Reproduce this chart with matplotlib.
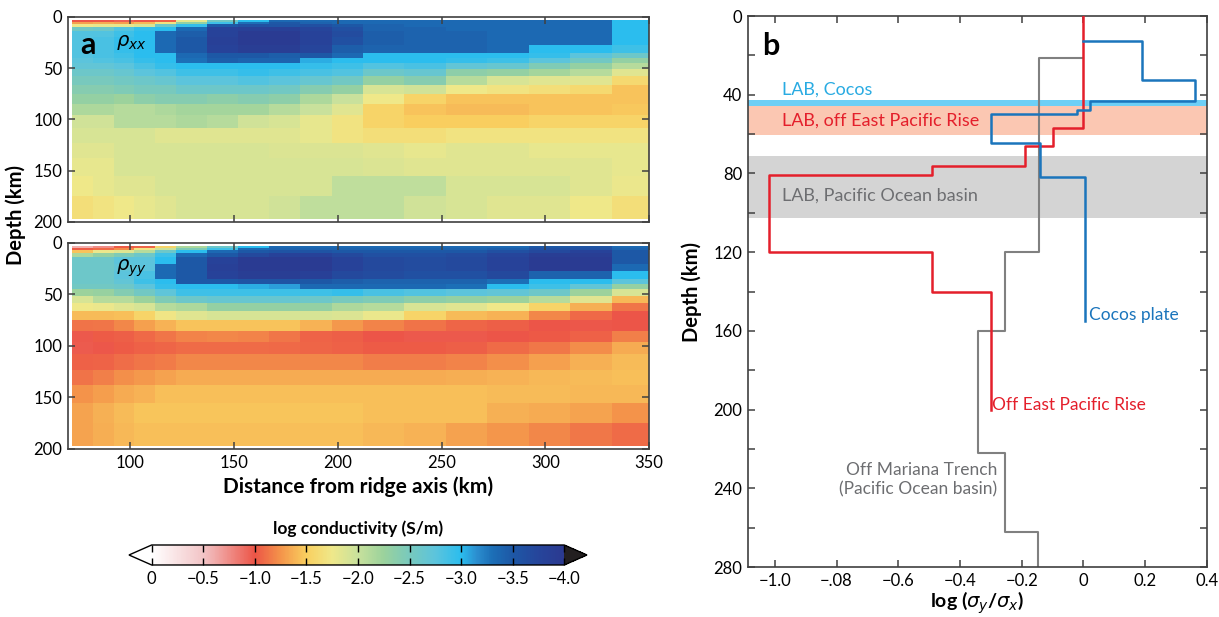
"""
Anisotropic conductivity sections off the East Pacific Rise (a) and
log(sigma_y / sigma_x) depth profiles for three oceanic settings (b).
"""
import numpy as np
import matplotlib.pyplot as plt
from matplotlib.colors import LinearSegmentedColormap, Normalize

plt.rcParams["font.family"] = ["Lato", "DejaVu Sans"]
plt.rcParams["mathtext.fontset"] = "dejavusans"

# ---- panel a: model mesh (km) ----
dist_edges = [72, 82, 92, 102, 112, 122, 137, 152, 167, 182, 197, 212,
              232, 252, 272, 292, 312, 332, 350]
depth_edges = [3, 5, 7, 10, 14, 20, 27, 35, 40, 45, 51, 58, 66, 75, 85,
               96, 108, 123, 138, 155, 175, 197]

# log conductivity (S/m), one row per layer, one value per column
log_sigma_xx = [
    [-1.0, -1.0, -0.95, -1.0, -1.05, -1.8, -2.55, -3.0, -3.35, -3.35, -3.35, -3.35, -3.35, -3.35, -3.35, -3.35, -3.35, -3.0],
    [-1.3, -1.35, -1.3, -1.4, -1.7, -2.3, -2.9, -3.3, -3.5, -3.4, -3.35, -3.35, -3.35, -3.35, -3.35, -3.35, -3.35, -3.0],
    [-1.75, -1.8, -1.8, -1.9, -2.6, -2.95, -3.5, -3.6, -3.55, -3.6, -3.5, -3.4, -3.35, -3.35, -3.35, -3.35, -3.35, -3.0],
    [-2.55, -2.6, -2.8, -2.95, -3.0, -3.35, -3.8, -3.85, -3.85, -3.75, -3.6, -3.4, -3.4, -3.35, -3.35, -3.35, -3.35, -3.0],
    [-2.8, -2.8, -2.9, -3.0, -3.35, -3.45, -3.8, -3.95, -3.95, -3.8, -3.65, -3.45, -3.4, -3.4, -3.35, -3.35, -3.35, -3.0],
    [-2.8, -2.85, -2.95, -3.0, -3.35, -3.5, -3.85, -3.95, -3.95, -3.8, -3.6, -3.45, -3.4, -3.4, -3.35, -3.35, -3.35, -3.0],
    [-2.8, -2.85, -2.95, -3.0, -3.35, -3.5, -3.8, -3.9, -3.9, -3.75, -3.45, -3.4, -3.4, -3.4, -3.35, -3.0, -3.0, -2.9],
    [-2.8, -2.85, -2.9, -3.0, -3.0, -3.35, -3.5, -3.5, -3.45, -3.5, -3.35, -3.0, -3.0, -3.0, -3.0, -2.95, -2.75, -2.6],
    [-2.75, -2.8, -2.85, -2.95, -3.0, -3.3, -3.45, -3.4, -3.4, -3.05, -3.0, -3.0, -3.0, -2.95, -2.9, -2.75, -2.55, -2.3],
    [-2.7, -2.7, -2.75, -2.85, -2.95, -3.0, -3.0, -3.0, -3.0, -2.95, -2.9, -2.8, -2.85, -2.7, -2.65, -2.45, -2.3, -2.1],
    [-2.6, -2.6, -2.65, -2.75, -2.8, -2.9, -2.9, -2.95, -2.9, -2.85, -2.8, -2.6, -2.65, -2.35, -2.3, -2.2, -2.1, -1.85],
    [-2.5, -2.5, -2.55, -2.6, -2.65, -2.75, -2.75, -2.8, -2.75, -2.65, -2.55, -2.3, -2.4, -2.1, -1.9, -1.85, -1.85, -1.6],
    [-2.4, -2.4, -2.45, -2.5, -2.5, -2.6, -2.6, -2.6, -2.55, -2.4, -2.3, -1.9, -1.95, -1.75, -1.7, -1.65, -1.6, -1.45],
    [-2.3, -2.3, -2.25, -2.35, -2.4, -2.4, -2.35, -2.4, -2.35, -2.15, -2.0, -1.75, -1.55, -1.45, -1.45, -1.45, -1.45, -1.45],
    [-2.15, -2.15, -2.1, -2.1, -2.15, -2.2, -2.2, -2.2, -2.1, -2.0, -1.85, -1.55, -1.45, -1.42, -1.42, -1.45, -1.45, -1.47],
    [-1.95, -1.95, -2.1, -2.1, -2.1, -2.15, -2.1, -1.95, -1.9, -1.8, -1.7, -1.55, -1.5, -1.5, -1.5, -1.55, -1.55, -1.55],
    [-1.9, -1.9, -1.9, -1.9, -1.85, -1.85, -1.85, -1.85, -1.85, -1.8, -1.7, -1.65, -1.65, -1.7, -1.7, -1.7, -1.7, -1.7],
    [-1.85, -1.85, -1.9, -1.9, -1.9, -1.9, -1.9, -1.9, -1.88, -1.88, -1.88, -1.85, -1.8, -1.85, -1.85, -1.8, -1.8, -1.8],
    [-1.8, -1.8, -1.9, -1.9, -1.9, -1.9, -1.9, -1.9, -1.9, -1.9, -1.9, -1.88, -1.85, -1.85, -1.85, -1.85, -1.85, -1.8],
    [-1.75, -1.8, -1.85, -1.85, -1.9, -1.9, -1.9, -1.9, -1.9, -1.9, -2.05, -2.05, -2.05, -1.9, -1.9, -1.9, -1.85, -1.78],
    [-1.65, -1.7, -1.75, -1.8, -1.85, -1.9, -1.9, -1.9, -1.95, -2.05, -2.05, -2.05, -1.95, -1.9, -1.85, -1.85, -1.75, -1.65],
]

log_sigma_yy = [
    [-0.6, -0.75, -1.03, -1.07, -1.55, -2.15, -2.6, -3.0, -3.35, -3.35, -3.35, -3.35, -3.35, -3.35, -3.35, -3.5, -3.55, -3.35],
    [-1.03, -1.08, -1.22, -1.72, -2.0, -2.45, -2.9, -3.35, -3.4, -3.4, -3.4, -3.4, -3.4, -3.4, -3.45, -3.6, -3.6, -3.4],
    [-1.45, -1.78, -1.85, -2.1, -2.6, -3.0, -3.35, -3.5, -3.55, -3.55, -3.5, -3.5, -3.5, -3.5, -3.6, -3.7, -3.8, -3.5],
    [-2.15, -2.3, -2.45, -2.6, -2.9, -3.35, -3.5, -3.7, -3.8, -3.8, -3.7, -3.6, -3.6, -3.65, -3.75, -3.9, -3.9, -3.5],
    [-2.6, -2.6, -2.75, -2.75, -3.0, -3.5, -3.8, -3.95, -3.95, -3.95, -3.8, -3.7, -3.65, -3.7, -3.8, -3.95, -3.95, -3.5],
    [-2.6, -2.6, -2.7, -2.75, -3.35, -3.5, -3.85, -3.95, -3.95, -3.95, -3.8, -3.7, -3.65, -3.7, -3.8, -3.95, -3.95, -3.35],
    [-2.6, -2.6, -2.75, -2.85, -3.35, -3.5, -3.8, -3.9, -3.9, -3.85, -3.7, -3.65, -3.6, -3.6, -3.7, -3.4, -3.4, -3.0],
    [-2.6, -2.6, -2.7, -2.9, -3.0, -3.5, -3.5, -3.55, -3.55, -3.5, -3.45, -3.4, -3.4, -3.4, -3.3, -3.0, -3.0, -2.75],
    [-2.55, -2.55, -2.6, -2.75, -2.95, -3.0, -3.0, -3.05, -3.1, -3.35, -3.35, -3.35, -3.35, -3.3, -3.0, -2.9, -2.7, -2.3],
    [-2.25, -2.28, -2.42, -2.55, -2.72, -2.9, -2.9, -2.9, -2.9, -2.9, -2.95, -2.85, -2.8, -2.75, -2.7, -2.6, -2.25, -1.9],
    [-1.9, -2.1, -2.1, -2.25, -2.45, -2.6, -2.65, -2.65, -2.65, -2.6, -2.5, -2.45, -2.35, -2.3, -2.25, -2.1, -1.85, -1.4],
    [-1.75, -1.78, -1.85, -1.9, -2.1, -2.15, -2.3, -2.3, -2.3, -2.3, -2.15, -2.1, -1.9, -1.85, -1.75, -1.55, -1.37, -1.13],
    [-1.42, -1.42, -1.43, -1.55, -1.72, -1.85, -1.9, -1.9, -1.9, -1.9, -1.88, -1.78, -1.55, -1.42, -1.38, -1.2, -1.08, -1.0],
    [-1.12, -1.13, -1.2, -1.3, -1.38, -1.45, -1.45, -1.45, -1.45, -1.38, -1.27, -1.18, -1.12, -1.07, -1.04, -1.0, -0.99, -1.0],
    [-0.98, -1.03, -1.04, -1.08, -1.13, -1.18, -1.2, -1.18, -1.13, -1.06, -1.04, -1.0, -0.98, -0.98, -1.0, -1.02, -1.05, -1.17],
    [-0.97, -0.99, -1.03, -1.05, -1.07, -1.09, -1.09, -1.09, -1.08, -1.07, -1.05, -1.03, -1.03, -1.04, -1.09, -1.14, -1.22, -1.35],
    [-1.05, -1.06, -1.1, -1.13, -1.15, -1.2, -1.2, -1.2, -1.2, -1.2, -1.2, -1.16, -1.16, -1.18, -1.23, -1.3, -1.37, -1.42],
    [-1.12, -1.17, -1.23, -1.27, -1.31, -1.35, -1.35, -1.35, -1.35, -1.35, -1.35, -1.35, -1.35, -1.36, -1.38, -1.4, -1.42, -1.43],
    [-1.25, -1.29, -1.35, -1.38, -1.43, -1.43, -1.43, -1.43, -1.43, -1.43, -1.43, -1.43, -1.43, -1.43, -1.42, -1.42, -1.4, -1.4],
    [-1.32, -1.37, -1.42, -1.46, -1.46, -1.46, -1.46, -1.46, -1.46, -1.46, -1.46, -1.43, -1.43, -1.43, -1.37, -1.35, -1.32, -1.25],
    [-1.32, -1.36, -1.4, -1.43, -1.43, -1.43, -1.43, -1.43, -1.43, -1.43, -1.43, -1.4, -1.38, -1.31, -1.26, -1.2, -1.14, -1.09],
]

# colour scale anchors: log conductivity -> colour
scale_values = [0.0, -0.5, -1.0, -1.25, -1.5, -1.75, -2.0, -2.25, -2.5,
                -2.75, -3.0, -3.15, -3.3, -3.5, -3.75, -4.0]
scale_colors = ["#ffffff", "#f2c4c6", "#ec5446", "#f4944a", "#f9cf5f",
                "#efe88a", "#c8e19c", "#9bd29c", "#78c9bd", "#5cc4dc",
                "#2bbdee", "#2b8fd0", "#1c6fb7", "#1d58a6", "#26459b",
                "#2b3990"]
cbar_ticks = [0, -0.5, -1.0, -1.5, -2.0, -2.5, -3.0, -3.5, -4.0]
cbar_labels = ["0", "\u22120.5", "\u22121.0", "\u22121.5", "\u22122.0",
               "\u22122.5", "\u22123.0", "\u22123.5", "\u22124.0"]

# ---- panel b: step profiles of log(sigma_y / sigma_x) ----
epr_depth = [0, 57, 66, 76, 81, 120, 140, 200]
epr_ratio = [0.0, -0.10, -0.19, -0.49, -1.02, -0.49, -0.30]
cocos_depth = [12.8, 32.5, 43.2, 47.9, 49.6, 64.4, 82, 155]
cocos_ratio = [0.19, 0.36, 0.02, -0.02, -0.30, -0.14, 0.005]
mariana_depth = [21.4, 120, 160, 222, 262, 280]
mariana_ratio = [-0.144, -0.253, -0.341, -0.254, -0.147]

# lithosphere-asthenosphere boundary depth ranges (km)
lab_cocos = (42.7, 45.5)
lab_epr = (45.5, 60.3)
lab_pacific = (70.9, 102.6)

b_xticks = [-1.0, -0.8, -0.6, -0.4, -0.2, 0.0, 0.2, 0.4]
b_xlabels = ["\u22121.0", "\u2212.08", "\u22120.6", "\u22120.4", "\u22120.2",
             "0", "0.2", "0.4"]

FRAME = "#404040"
RED = "#e41f2b"
BLUE = "#1b75bc"
GREY = "#808080"


def profile(ax, edges, values, start=None, **kw):
    """Draw a layered profile as a staircase in depth."""
    xs, ys = [], []
    if start is not None:
        xs.append(start)
        ys.append(edges[0])
    for v, top, bot in zip(values, edges[:-1], edges[1:]):
        xs += [v, v]
        ys += [top, bot]
    ax.plot(xs, ys, **kw)


def style_frame(ax):
    for s in ax.spines.values():
        s.set_color(FRAME)
        s.set_linewidth(1.2)
    ax.tick_params(direction="in", top=True, right=True, length=5,
                   width=1.1, color=FRAME, labelsize=12, pad=4)


pos = [(v + 4.0) / 4.0 for v in scale_values]
cmap = LinearSegmentedColormap.from_list(
    "logcond", sorted(zip(pos, scale_colors)), N=512
).with_extremes(over="white", under="#231f20")
norm = Normalize(vmin=-4, vmax=0)

fig = plt.figure(figsize=(12.19, 6.17), dpi=100)
ax_xx = fig.add_axes([0.0558, 0.6402, 0.4766, 0.3323])
ax_yy = fig.add_axes([0.0558, 0.2723, 0.4766, 0.3339])
cax = fig.add_axes([0.1058, 0.0843, 0.3757, 0.0324])
ax_b = fig.add_axes([0.6136, 0.081, 0.3765, 0.893])

for ax, grid, name in [(ax_xx, log_sigma_xx, r"$\rho_{xx}$"),
                       (ax_yy, log_sigma_yy, r"$\rho_{yy}$")]:
    mesh = ax.pcolormesh(dist_edges, depth_edges, np.array(grid),
                         cmap=cmap, norm=norm, shading="flat")
    ax.set_xlim(70, 350)
    ax.set_ylim(200, 0)
    ax.set_xticks(np.arange(100, 351, 50))
    ax.set_yticks(np.arange(0, 201, 50))
    style_frame(ax)
    ax.text(100.5, 25, name, fontsize=14, ha="center", va="center")

ax_xx.tick_params(labelbottom=False)
ax_xx.text(79.5, 27, "a", fontsize=22, fontweight="bold", ha="center", va="center")
ax_yy.set_xlabel("Distance from ridge axis (km)", fontsize=15,
                 fontweight="bold", labelpad=4)
fig.text(0.013, 0.651, "Depth (km)", rotation=90, fontsize=14.5,
         fontweight="bold", ha="center", va="center")

cbar = fig.colorbar(mesh, cax=cax, orientation="horizontal", extend="both",
                    extendfrac=0.055, ticks=cbar_ticks)
cbar.ax.invert_xaxis()
cbar.set_ticklabels(cbar_labels)
cbar.outline.set_linewidth(1.0)
cbar.ax.tick_params(direction="in", top=True, bottom=True, length=5,
                    width=1.0, labelsize=12, pad=4)
for tick in cbar.ax.xaxis.get_major_ticks():
    if tick.get_loc() == -3.5:
        tick.tick1line.set_color("white")
        tick.tick2line.set_color("white")
cax.set_title("log conductivity (S/m)", fontsize=12.5, fontweight="bold", pad=8)

# panel b
ax_b.axhspan(*lab_cocos, color="#6dcff6", lw=0, zorder=0)
ax_b.axhspan(*lab_epr, color="#fbc7b2", lw=0, zorder=0)
ax_b.axhspan(*lab_pacific, color="#d4d4d4", lw=0, zorder=0)

profile(ax_b, mariana_depth, mariana_ratio, start=0.0, color=GREY, lw=1.5, zorder=2)
profile(ax_b, epr_depth, epr_ratio, color=RED, lw=1.8, zorder=3)
profile(ax_b, cocos_depth, cocos_ratio, start=0.0, color=BLUE, lw=1.8, zorder=4)

ax_b.set_xlim(-1.087, 0.4)
ax_b.set_ylim(280, 0)
ax_b.set_xticks(b_xticks)
ax_b.set_xticklabels(b_xlabels)
ax_b.set_yticks(np.arange(0, 281, 40))
ax_b.set_yticks(np.arange(20, 281, 40), minor=True)
style_frame(ax_b)
ax_b.tick_params(which="minor", direction="in", left=True, right=True,
                 length=5, width=1.1, color=FRAME)
ax_b.set_xlabel(r"log ($\sigma_y$/$\sigma_x$)", fontsize=14,
                fontweight="bold", labelpad=1)
ax_b.set_ylabel("Depth (km)", fontsize=14.5, fontweight="bold", labelpad=8)

ax_b.text(-1.013, 15, "b", fontsize=22, fontweight="bold", ha="center", va="center")
ax_b.text(-0.978, 37.6, "LAB, Cocos", color="#29abe2", fontsize=13, va="center")
ax_b.text(-0.978, 53, "LAB, off East Pacific Rise", color=RED, fontsize=13, va="center")
ax_b.text(-0.978, 91.5, "LAB, Pacific Ocean basin", color="#6d6e71", fontsize=13, va="center")
ax_b.text(0.017, 152, "Cocos plate", color=BLUE, fontsize=12.5, va="center")
ax_b.text(-0.297, 197.8, "Off East Pacific Rise", color=RED, fontsize=12.5, va="center")
ax_b.text(-0.279, 235.5, "Off Mariana Trench\n(Pacific Ocean basin)", color="#6d6e71",
          fontsize=12.5, ha="right", va="center", multialignment="right",
          linespacing=1.25)

fig.savefig("out.png", dpi=100)
